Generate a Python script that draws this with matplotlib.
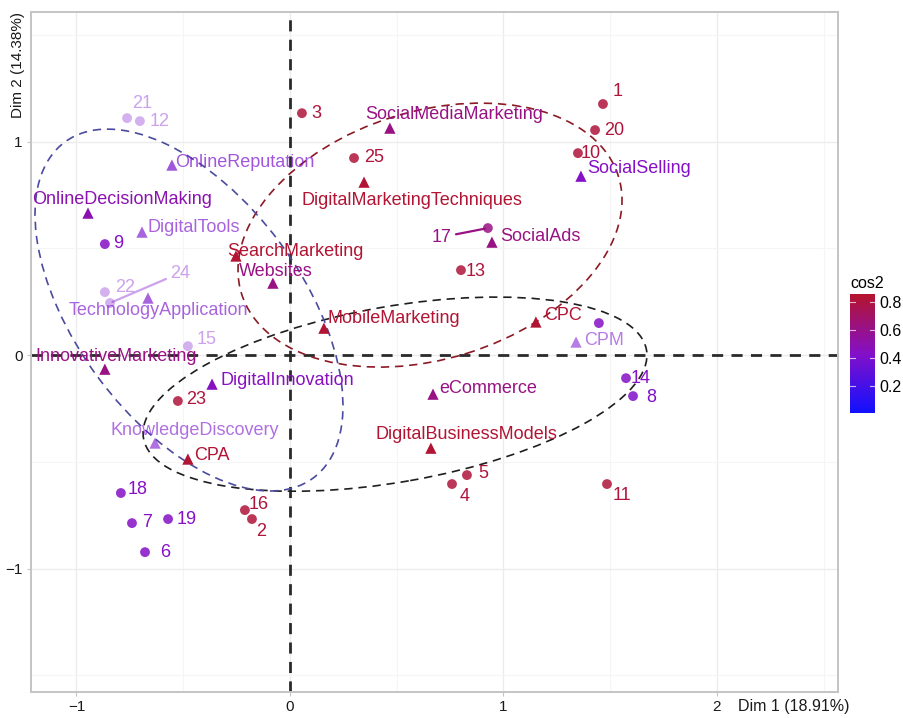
import numpy as np
import matplotlib
matplotlib.use("Agg")
import matplotlib.pyplot as plt
from matplotlib.colors import LinearSegmentedColormap, Normalize
from matplotlib.patches import Ellipse
from matplotlib.colorbar import ColorbarBase

plt.rcParams['font.family'] = ['Liberation Sans', 'DejaVu Sans']

# individuals
ind_names = ["1", "20", "10", "3", "25", "17", "13", "21", "12", "9", "22", "24", "15",
             "23", "18", "7", "19", "6", "16", "2", "5", "4", "11", "14", "8", ""]
ind_x = [1.466, 1.429, 1.349, 0.056, 0.300, 0.927, 0.801, -0.763, -0.703, -0.867, -0.867,
         -0.843, -0.478, -0.525, -0.792, -0.740, -0.571, -0.679, -0.211, -0.178, 0.829,
         0.759, 1.485, 1.574, 1.607, 1.447]
ind_y = [1.176, 1.054, 0.946, 1.133, 0.923, 0.595, 0.398, 1.110, 1.096, 0.520, 0.295,
         0.244, 0.042, -0.215, -0.646, -0.787, -0.768, -0.923, -0.726, -0.768, -0.562,
         -0.604, -0.604, -0.108, -0.192, 0.150]
ind_cos2 = [0.82, 0.82, 0.82, 0.82, 0.82, 0.62, 0.82, 0.40, 0.40, 0.44, 0.40, 0.40, 0.40,
            0.82, 0.44, 0.44, 0.44, 0.44, 0.82, 0.82, 0.82, 0.82, 0.82, 0.44, 0.42, 0.44]
ind_contrib = [4.5, 4.5, 4.5, 4.5, 4.5, 4.5, 4.5, 0.5, 0.5, 4.5, 0.5, 0.5, 0.5,
               4.5, 4.5, 4.5, 4.5, 4.5, 4.5, 4.5, 4.5, 4.5, 4.5, 4.5, 4.5, 4.5]

# variables
var_names = ["SocialMediaMarketing", "SocialSelling", "DigitalMarketingTechniques", "SocialAds",
             "SearchMarketing", "Websites", "OnlineReputation", "OnlineDecisionMaking",
             "DigitalTools", "TechnologyApplication", "MobileMarketing", "CPC", "CPM",
             "InnovativeMarketing", "DigitalInnovation", "eCommerce", "DigitalBusinessModels",
             "KnowledgeDiscovery", "CPA"]
var_x = [0.468, 1.363, 0.347, 0.946, -0.253, -0.080, -0.553, -0.946, -0.693, -0.665, 0.159,
         1.152, 1.340, -0.867, -0.365, 0.670, 0.660, -0.632, -0.478]
var_y = [1.063, 0.838, 0.810, 0.529, 0.464, 0.337, 0.890, 0.665, 0.576, 0.267, 0.126,
         0.155, 0.061, -0.066, -0.136, -0.183, -0.436, -0.412, -0.487]
var_cos2 = [0.62, 0.44, 0.84, 0.62, 0.84, 0.62, 0.40, 0.50, 0.40, 0.40, 0.84,
            0.84, 0.40, 0.62, 0.46, 0.62, 0.84, 0.40, 0.84]
var_contrib = [4.5, 4.5, 4.5, 4.5, 4.5, 4.5, 2.3, 4.5, 2.0, 2.0, 4.5,
               4.5, 1.4, 4.5, 4.5, 4.5, 4.5, 1.7, 4.5]

# concentration ellipses
ell_cx = [0.656, 0.492, -0.473]
ell_cy = [0.562, -0.183, 0.211]
ell_w = [1.849, 2.392, 1.957]
ell_h = [1.160, 0.822, 1.060]
ell_angle = [17.3, 9.98, -53.5]
ell_colors = ["#8b1a24", "#1e1e1e", "#4b4b9e"]

# label placement, pixels from the marker
ind_offsets = {"1": (15, 13), "20": (19, 0), "10": (13, 0), "3": (14, 0), "25": (20, 1),
               "17": (-46, -9), "13": (15, -1), "21": (15, 15), "12": (20, 0), "9": (13, 1),
               "22": (20, 5), "24": (70, 30), "15": (19, 7), "23": (18, 1), "18": (17, 4),
               "7": (15, 1), "19": (19, 0), "6": (20, 0), "16": (14, 6), "2": (9, -12),
               "5": (16, 2), "4": (13, -12), "11": (15, -11), "14": (15, 0), "8": (18, -1)}
var_offsets = {"SocialMediaMarketing": (64, 14), "SocialSelling": (58, 8),
               "DigitalMarketingTechniques": (48, -18), "SocialAds": (48, 6),
               "SearchMarketing": (59, 5), "Websites": (3, 12), "OnlineReputation": (73, 3),
               "OnlineDecisionMaking": (34, 14), "DigitalTools": (52, 5),
               "TechnologyApplication": (10, -12), "MobileMarketing": (70, 10), "CPC": (27, 7),
               "CPM": (28, 2), "InnovativeMarketing": (11, 13), "DigitalInnovation": (75, 4),
               "eCommerce": (55, 6), "DigitalBusinessModels": (36, 14),
               "KnowledgeDiscovery": (40, 13), "CPA": (24, 4)}
segments = ["17", "24"]

cmap = LinearSegmentedColormap.from_list("cos2", [(0.0, "#1010ff"), (0.5, "#8410c8"),
                                                  (1.0, "#b4142c")])
norm = Normalize(vmin=0.01, vmax=0.86)


def point_color(cos2, contrib, fade=1.0):
    r, g, b, _ = cmap(norm(cos2))
    alpha = (0.3 + 0.7 * min(contrib / 4.0, 1.0)) * fade
    return (r, g, b, alpha)


fig = plt.figure(figsize=(9.04, 7.18), dpi=100)
ax = fig.add_axes([31 / 904, 26 / 718, 807 / 904, 680 / 718])
ax.set_xlim(-1.213, 2.567)
ax.set_ylim(-1.578, 1.607)

# grid and frame
for v in [-1, 0, 1, 2]:
    ax.axvline(v, color="#ececec", lw=1.0, zorder=0)
for v in [-0.5, 0.5, 1.5, 2.5]:
    ax.axvline(v, color="#f5f5f5", lw=0.8, zorder=0)
for v in [-1, 0, 1]:
    ax.axhline(v, color="#ececec", lw=1.0, zorder=0)
for v in [-1.5, -0.5, 0.5, 1.5]:
    ax.axhline(v, color="#f5f5f5", lw=0.8, zorder=0)
for s in ax.spines.values():
    s.set_color("#c4c4c4")
    s.set_linewidth(1.4)

ax.set_xticks([-1, 0, 1, 2])
ax.set_yticks([-1, 0, 1])
ax.set_xticklabels(["\u22121", "0", "1", "2"])
ax.set_yticklabels(["\u22121", "0", "1"])
ax.tick_params(length=3, color="#c4c4c4", labelsize=11, labelcolor="#1a1a1a", pad=3)

ax.axhline(0, color="#2a2a2a", lw=2.0, ls=(0, (4, 3)), zorder=1)
ax.axvline(0, color="#2a2a2a", lw=2.0, ls=(0, (4, 3)), zorder=1)

for cx, cy, w, h, ang, col in zip(ell_cx, ell_cy, ell_w, ell_h, ell_angle, ell_colors):
    ax.add_patch(Ellipse((cx, cy), w, h, angle=ang, fill=False, edgecolor=col,
                         lw=1.2, ls=(0, (5, 3.5)), zorder=2))

# individuals
for name, x, y, c2, ct in zip(ind_names, ind_x, ind_y, ind_cos2, ind_contrib):
    col = point_color(c2, ct)
    ax.scatter([x], [y], s=50, marker="o", color=point_color(c2, ct, 0.85),
               edgecolors="none", zorder=3)
    if name == "":
        continue
    dx, dy = ind_offsets[name]
    arrow = None
    if name in segments:
        arrow = dict(arrowstyle="-", color=col, lw=1.6, shrinkA=1, shrinkB=2)
    ax.annotate(name, (x, y), xytext=(dx, dy), textcoords="offset pixels",
                ha="center", va="center", fontsize=13, color=col,
                arrowprops=arrow, zorder=4)

# variables
for name, x, y, c2, ct in zip(var_names, var_x, var_y, var_cos2, var_contrib):
    col = point_color(c2, ct)
    ax.scatter([x], [y], s=66, marker="^", color=col, edgecolors="none", zorder=3)
    dx, dy = var_offsets[name]
    ax.annotate(name, (x, y), xytext=(dx, dy), textcoords="offset pixels",
                ha="center", va="center", fontsize=13, color=col, zorder=4)

# axis titles
fig.text(738 / 904, (718 - 707) / 718, "Dim 1 (18.91%)", fontsize=11.5,
         ha="left", va="center", color="#1a1a1a")
fig.text(18 / 904, (718 - 12) / 718, "Dim 2 (14.38%)", fontsize=11, rotation=90,
         ha="center", va="top", color="#1a1a1a")

# colour bar
cax = fig.add_axes([850 / 904, (718 - 413) / 718, 25 / 904, 119 / 718])
cb = ColorbarBase(cax, cmap=cmap, norm=norm, ticks=[0.2, 0.4, 0.6, 0.8])
cb.outline.set_visible(False)
cax.tick_params(length=0, labelsize=11.5, pad=3)
for t in [0.2, 0.4, 0.6, 0.8]:
    cax.plot([0.0, 0.2], [t, t], color="white", lw=0.8, alpha=0.7)
    cax.plot([0.8, 1.0], [t, t], color="white", lw=0.8, alpha=0.7)
fig.text(850 / 904, (718 - 283) / 718, "cos2", fontsize=11.5, ha="left", va="center")

fig.savefig("out.png", dpi=100)
